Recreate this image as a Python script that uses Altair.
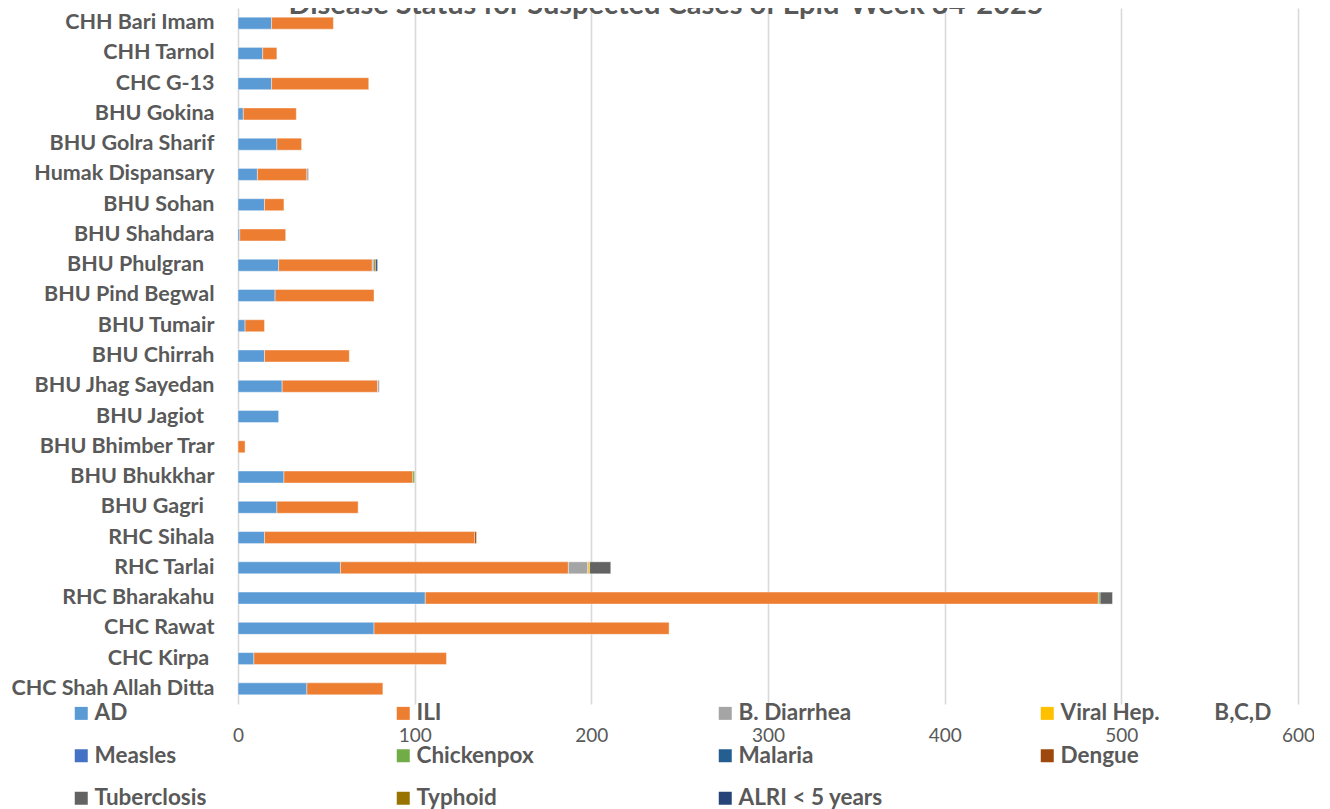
import altair as alt
import pandas as pd

NB = "\u00a0"
ZW = "\u200b"

facilities = [
    "CHH Bari Imam", "CHH Tarnol", "CHC G-13", "BHU Gokina", "BHU Golra Sharif",
    "Humak Dispansary", "BHU Sohan", "BHU Shahdara", "BHU Phulgran" + NB * 2 + ZW,
    "BHU Pind Begwal", "BHU Tumair", "BHU Chirrah", "BHU Jhag Sayedan",
    "BHU Jagiot" + NB * 2 + ZW, "BHU Bhimber Trar", "BHU Bhukkhar", "BHU Gagri" + NB * 2 + ZW,
    "RHC Sihala", "RHC Tarlai", "RHC Bharakahu", "CHC Rawat", "CHC Kirpa" + NB + ZW,
    "CHC Shah Allah Ditta",
]

series = [
    "AD", "ILI", "B. Diarrhea", "Viral Hep. " + NB * 9 + "B,C,D", "Measles",
    "Chickenpox", "Malaria", "Dengue", "Tuberclosis", "Typhoid", "ALRI < 5 years",
]

colors = [
    "#5B9BD5", "#ED7D31", "#A5A5A5", "#FFC000", "#4472C4", "#70AD47",
    "#255E91", "#9E480E", "#636363", "#997300", "#264478",
]

AD          = [19, 14, 19, 3, 22, 11, 15, 1, 23, 21, 4, 15, 25, 23, 0, 26, 22, 15, 58, 106, 77, 9, 39]
ILI         = [35, 8, 55, 30, 14, 28, 11, 26, 53, 56, 11, 48, 54, 0, 4, 73, 46, 119, 129, 381, 167, 109, 43]
B_DIARRHEA  = [0, 0, 0, 0, 0, 1, 0, 0, 1, 0, 0, 0, 1, 0, 0, 0, 0, 0, 11, 0, 0, 0, 0]
VIRAL_HEP   = [0, 0, 0, 0, 0, 0, 0, 0, 0, 0, 0, 0, 0, 0, 0, 0, 0, 0, 1, 0, 0, 0, 0]
MEASLES     = [0, 0, 0, 0, 0, 0, 0, 0, 0, 0, 0, 0, 0, 0, 0, 0, 0, 0, 0, 0, 0, 0, 0]
CHICKENPOX  = [0, 0, 0, 0, 0, 0, 0, 0, 0, 0, 0, 0, 0, 0, 0, 1, 0, 0, 0, 1, 0, 0, 0]
MALARIA     = [0, 0, 0, 0, 0, 0, 0, 0, 0, 0, 0, 0, 0, 0, 0, 0, 0, 0, 0, 0, 0, 0, 0]
DENGUE      = [0, 0, 0, 0, 0, 0, 0, 0, 0, 0, 0, 0, 0, 0, 0, 0, 0, 1, 0, 0, 0, 0, 0]
TUBERCLOSIS = [0, 0, 0, 0, 0, 0, 0, 0, 0, 0, 0, 0, 0, 0, 0, 0, 0, 0, 12, 7, 0, 0, 0]
TYPHOID     = [0, 0, 0, 0, 0, 0, 0, 0, 1, 0, 0, 0, 0, 0, 0, 0, 0, 0, 0, 0, 0, 0, 0]
ALRI        = [0, 0, 0, 0, 0, 0, 0, 0, 1, 0, 0, 0, 0, 0, 0, 0, 0, 0, 0, 0, 0, 0, 0]

x_ticks = [0, 100, 200, 300, 400, 500, 600]
title_text = "Disease Status for Suspected Cases of Epid-Week 34-2025"

values_by_series = [AD, ILI, B_DIARRHEA, VIRAL_HEP, MEASLES, CHICKENPOX,
                    MALARIA, DENGUE, TUBERCLOSIS, TYPHOID, ALRI]

rows = []
for si, (name, vals) in enumerate(zip(series, values_by_series)):
    for fac, v in zip(facilities, vals):
        if v > 0:
            rows.append({"facility": fac, "series": name, "value": v, "order": si})
df = pd.DataFrame(rows)

GRAY = "#595959"
FONT = "Lato"

bars = alt.Chart(df).mark_bar(
    size=12, stroke="white", strokeWidth=0.6, strokeOpacity=0.7
).encode(
    x=alt.X(
        "value:Q", stack="zero",
        scale=alt.Scale(domain=[0, 600], nice=False),
        axis=alt.Axis(
            values=x_ticks, grid=True, ticks=False, tickSize=0, domain=False,
            labelPadding=22, title=None, labelFontSize=19, labelColor=GRAY,
            labelFont=FONT, labelFlush=False, gridColor="#d9d9d9", gridWidth=1.6,
        ),
    ),
    y=alt.Y(
        "facility:N", sort=facilities,
        scale=alt.Scale(paddingInner=0, paddingOuter=0),
        axis=alt.Axis(
            title=None, ticks=False, tickSize=0, domain=False, labelPadding=24,
            labelFontSize=21.5, labelFontWeight="bold", labelColor=GRAY,
            labelFont=FONT, labelLimit=400,
        ),
    ),
    color=alt.Color(
        "series:N",
        scale=alt.Scale(domain=series, range=colors),
        legend=alt.Legend(
            title=None, orient="none", legendX=-168, legendY=694, columns=4,
            direction="horizontal", gridAlign="all", symbolType="square",
            symbolSize=169, symbolStrokeWidth=0, labelFontSize=22.5,
            labelFont=FONT, labelFontWeight="bold", labelColor=GRAY,
            labelOffset=2, columnPadding=86, rowPadding=19.5, padding=0,
            labelLimit=500,
        ),
    ),
    order=alt.Order("order:Q"),
)

title = alt.Chart(pd.DataFrame({"t": [title_text]})).mark_text(
    font=FONT, fontSize=29, fontWeight="bold", color=GRAY,
    align="center", baseline="alphabetic",
).encode(text="t:N", x=alt.value(428), y=alt.value(6))

chart = alt.layer(bars, title).properties(
    width=1060,
    height=696,
    autosize=alt.AutoSizeParams(type="none"),
    padding={"left": 230, "top": 0, "right": 16, "bottom": 110},
).configure_view(stroke=None)

chart.save("out.html", embed_options={"renderer": "svg", "actions": False})
